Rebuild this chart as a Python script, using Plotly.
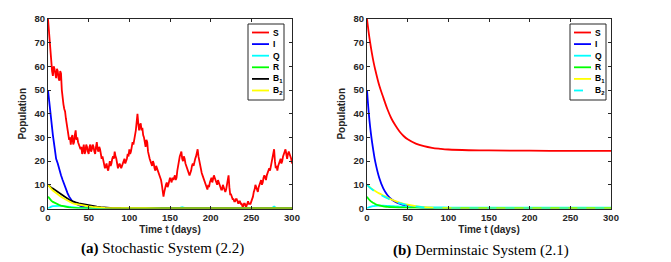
import plotly.graph_objects as go

# ---------------- (a) Stochastic system data ----------------
t_S = list(range(0, 301))
S_sto = [80, 75, 71, 65, 62, 58, 56, 60, 59, 56, 55, 59, 58, 55, 54, 58, 57, 50, 46, 44,
         42, 41, 38, 36, 33, 31, 29, 30, 27, 30, 31, 27, 28, 31, 33, 29, 30, 28, 27, 26,
         25, 26, 23, 25, 27, 23, 24, 27, 26, 24, 23, 26, 27, 24, 25, 27, 26, 24, 23, 26,
         28, 25, 24, 26, 25, 23, 21, 22, 20, 18, 17, 18, 19, 17, 16, 18, 20, 18, 19, 21,
         22, 21, 24, 22, 21, 19, 17, 18, 19, 18, 17, 18, 19, 20, 21, 19, 20, 21, 23, 22,
         25, 23, 24, 26, 28, 27, 30, 31, 33, 36, 40, 36, 33, 35, 36, 33, 34, 31, 30, 28,
         26, 29, 28, 24, 22, 21, 20, 19, 18, 20, 19, 17, 16, 18, 17, 16, 15, 14, 13, 12,
         10, 7, 5, 7, 9, 10, 11, 9, 10, 12, 13, 12, 11, 13, 12, 13, 14, 12, 13, 16,
         19, 20, 22, 23, 24, 21, 20, 22, 21, 19, 18, 17, 16, 15, 14, 15, 16, 18, 19, 18,
         20, 21, 22, 24, 25, 22, 20, 18, 17, 15, 14, 13, 12, 11, 10, 9, 8, 10, 9, 11,
         12, 13, 11, 13, 14, 13, 12, 11, 10, 12, 11, 10, 9, 8, 8, 10, 9, 8, 7, 8,
         10, 12, 14, 9, 6, 6, 5, 4, 4, 3, 3, 4, 4, 3, 2, 3, 3, 2, 2, 1,
         1, 2, 2, 1, 1, 2, 3, 2, 2, 2, 3, 4, 5, 7, 8, 10, 9, 8, 7, 9,
         10, 11, 12, 10, 11, 13, 14, 13, 12, 14, 15, 16, 17, 16, 18, 20, 21, 23, 25, 20,
         17, 18, 16, 18, 19, 20, 21, 19, 20, 22, 23, 24, 25, 23, 21, 23, 24, 23, 22, 21,
         19]

t_small = [0, 2, 4, 6, 8, 10, 12, 14, 16, 18, 20, 22, 24, 26, 28, 30, 34, 38, 42, 46,
           50, 55, 60, 65, 70, 80, 90, 100, 120, 140, 160, 165, 170, 200, 240, 275, 278, 281, 300]
I_sto = [50, 43, 36, 31, 26, 21, 19, 16, 14, 12, 10, 8.5, 6.5, 5, 4, 3, 2, 1.3, 0.8, 0.5,
         0.3, 0.2, 0.1, 0.1, 0, 0, 0, 0, 0, 0, 0, 0, 0, 0, 0, 0, 0, 0, 0]
Q_sto = [0, 0.5, 0.8, 1.0, 1.1, 1.2, 1.2, 1.1, 1.1, 1.0, 0.9, 0.8, 0.7, 0.6, 0.5, 0.4, 0.3, 0.3, 0.2, 0.2,
         0.1, 0.1, 0.1, 0.1, 0.1, 0.1, 0.1, 0.1, 0.1, 0.1, 0.1, 0.6, 0.1, 0.1, 0.1, 0.1, 0.8, 0.1, 0.1]
R_sto = [5, 4, 3.3, 2.8, 2.4, 2.0, 1.7, 1.5, 1.2, 1.0, 0.9, 0.7, 0.6, 0.5, 0.4, 0.3, 0.2, 0.1, 0.1, 0,
         0, 0, 0, 0, 0, 0, 0, 0, 0, 0, 0, 0, 0, 0, 0, 0, 0, 0, 0]
B1_sto = [10, 9.3, 8.8, 8.4, 7.9, 7.6, 7.2, 6.7, 6.1, 5.6, 5.2, 4.7, 4.2, 3.7, 3.3, 3.0, 2.6, 2.2, 1.9, 1.6,
          1.3, 1.0, 0.8, 0.6, 0.4, 0.2, 0.1, 0.1, 0.05, 0, 0, 0, 0, 0, 0, 0, 0, 0, 0]
B2_sto = [10, 9.0, 8.3, 7.6, 7.0, 6.5, 6.0, 5.5, 5.0, 4.5, 4.1, 3.7, 3.3, 2.9, 2.6, 2.3, 1.9, 1.6, 1.3, 1.1,
          0.9, 0.7, 0.5, 0.4, 0.3, 0.2, 0.1, 0.1, 0.1, 0.05, 0.05, 0.05, 0.05, 0.05, 0.05, 0.05, 0.05, 0.05, 0.05]

# ---------------- (b) Deterministic system data ----------------
t_det = [0, 2, 4, 6, 8, 10, 15, 20, 25, 30, 35, 40, 45, 50, 60, 70, 80, 90, 100, 125, 150, 200, 250, 300]
S_det = [80, 74.5, 69.8, 65.6, 61.9, 58.8, 52.0, 46.9, 42.0, 38.0, 35.0, 32.5, 30.6, 29.2, 27.4, 26.3,
         25.6, 25.2, 24.9, 24.6, 24.5, 24.4, 24.3, 24.3]
I_det = [50, 41, 34, 28.5, 24, 20, 13, 8.5, 5.7, 3.9, 2.8, 2.0, 1.5, 1.1, 0.6, 0.35, 0.2, 0.1, 0.05,
         0, 0, 0, 0, 0]
Q_det = [0, 0.4, 0.7, 0.9, 1.0, 1.1, 1.2, 1.2, 1.1, 1.0, 0.9, 0.8, 0.7, 0.65, 0.55, 0.5, 0.45, 0.45,
         0.4, 0.4, 0.4, 0.4, 0.4, 0.4]
R_det = [5, 4.0, 3.3, 2.7, 2.3, 1.9, 1.3, 0.9, 0.7, 0.55, 0.45, 0.4, 0.35, 0.3, 0.25, 0.2, 0.2, 0.2,
         0.2, 0.2, 0.2, 0.2, 0.2, 0.2]
B1_det = [10, 9.4, 8.8, 8.3, 7.8, 7.4, 6.4, 5.5, 4.6, 3.8, 3.1, 2.5, 2.0, 1.6, 1.0, 0.6, 0.35, 0.2,
          0.1, 0.05, 0, 0, 0, 0]
B2_det = [10, 9.3, 8.7, 8.1, 7.6, 7.1, 6.1, 5.2, 4.3, 3.5, 2.8, 2.3, 1.8, 1.4, 0.9, 0.5, 0.3, 0.15,
          0.1, 0, 0, 0, 0, 0]

names = ["S", "I", "Q", "R", "B<sub>1</sub>", "B<sub>2</sub>"]
x_ticks = [0, 50, 100, 150, 200, 250, 300]
y_ticks = [0, 10, 20, 30, 40, 50, 60, 70, 80]
caption_a = "<b>(a)</b> Stochastic System (2.2)"
caption_b = "<b>(b)</b> Derminstaic System (2.1)"

RED, BLUE, CYAN, GREEN, BLACK, YELLOW = "#ff0000", "#0000ff", "#00ffff", "#00ff00", "#000000", "#ffff00"
LW = 1.8
OFF = 8                       # page body margin
W, H = 671 - OFF, 262 - OFF   # figure size


def px(xp):
    return (xp - OFF) / W


def py(yp):
    return 1 - (yp - OFF) / H


fig = go.Figure()

sto = [(t_S, S_sto, RED, "solid"), (t_small, I_sto, BLUE, "solid"), (t_small, Q_sto, CYAN, "solid"),
       (t_small, R_sto, GREEN, "solid"), (t_small, B1_sto, BLACK, "solid"), (t_small, B2_sto, YELLOW, "solid")]
for (tt, yy, c, d), n in zip(sto, names):
    fig.add_trace(go.Scatter(x=tt, y=yy, mode="lines", name=n, line=dict(color=c, width=LW, dash=d),
                             xaxis="x", yaxis="y", showlegend=False))

det = [(S_det, RED, "solid"), (I_det, BLUE, "solid"), (Q_det, CYAN, "solid"),
       (R_det, GREEN, "solid"), (B1_det, YELLOW, "solid"), (B2_det, CYAN, "dash")]
for (yy, c, d), n in zip(det, names):
    fig.add_trace(go.Scatter(x=t_det, y=yy, mode="lines", name=n, line=dict(color=c, width=LW, dash=d, shape="spline"),
                             xaxis="x2", yaxis="y2", showlegend=False))

tickfont = dict(family="Liberation Sans, Arial", size=9.5, color="#262626", weight="bold")
titlefont = dict(family="Liberation Sans, Arial", size=10, color="#262626", weight="bold")
axis_common = dict(showline=True, linecolor="#262626", linewidth=1, mirror="ticks", ticks="inside",
                   ticklen=3, tickcolor="#262626", showgrid=False, zeroline=False, tickfont=tickfont,
                   automargin=False)

ydom = [py(208.5), py(19)]

shapes = []
annotations = []
legend_font = dict(family="Liberation Sans, Arial", size=8.5, color="black", weight="bold")


def add_legend(box_left_px, styles):
    box_right_px = box_left_px + 36
    top_px, bottom_px = 24, 100
    shapes.append(dict(type="rect", xref="paper", yref="paper",
                       x0=px(box_left_px), x1=px(box_right_px), y0=py(bottom_px), y1=py(top_px),
                       line=dict(color="#262626", width=1), fillcolor="white", layer="above"))
    for i, ((c, d), n) in enumerate(zip(styles, names)):
        yc = 32.5 + i * 11.6
        shapes.append(dict(type="line", xref="paper", yref="paper",
                           x0=px(box_left_px + 4), x1=px(box_left_px + 21),
                           y0=py(yc), y1=py(yc), line=dict(color=c, width=LW, dash=d), layer="above"))
        annotations.append(dict(text=n, x=px(box_left_px + 23), y=py(yc), xref="paper", yref="paper",
                                xanchor="left", yanchor="middle", showarrow=False, font=legend_font))


add_legend(248, [(c, d) for (_, _, c, d) in sto])
add_legend(570, [(c, d) for (_, c, d) in det])

annotations += [
    dict(text=caption_a, x=px(162), y=py(248), xref="paper", yref="paper", showarrow=False,
         xanchor="center", yanchor="middle",
         font=dict(family="Liberation Serif, Times New Roman", size=15, color="black")),
    dict(text=caption_b, x=px(481), y=py(250), xref="paper", yref="paper", showarrow=False,
         xanchor="center", yanchor="middle",
         font=dict(family="Liberation Serif, Times New Roman", size=15, color="black")),
]

fig.update_layout(
    width=W, height=H, margin=dict(l=0, r=0, t=0, b=0),
    paper_bgcolor="white", plot_bgcolor="white", showlegend=False,
    xaxis=dict(domain=[px(48), px(292)], range=[0, 300], tickvals=x_ticks, anchor="y",
               title=dict(text="Time t (days)", font=titlefont, standoff=4), **axis_common),
    yaxis=dict(domain=ydom, range=[0, 80], tickvals=y_ticks, anchor="x",
               title=dict(text="Population", font=titlefont, standoff=6), **axis_common),
    xaxis2=dict(domain=[px(367), px(611)], range=[0, 300], tickvals=x_ticks, anchor="y2",
                title=dict(text="Time t (days)", font=titlefont, standoff=4), **axis_common),
    yaxis2=dict(domain=ydom, range=[0, 80], tickvals=y_ticks, anchor="x2",
                title=dict(text="Population", font=titlefont, standoff=6), **axis_common),
    shapes=shapes,
    annotations=annotations,
)

fig.write_html("out.html")
